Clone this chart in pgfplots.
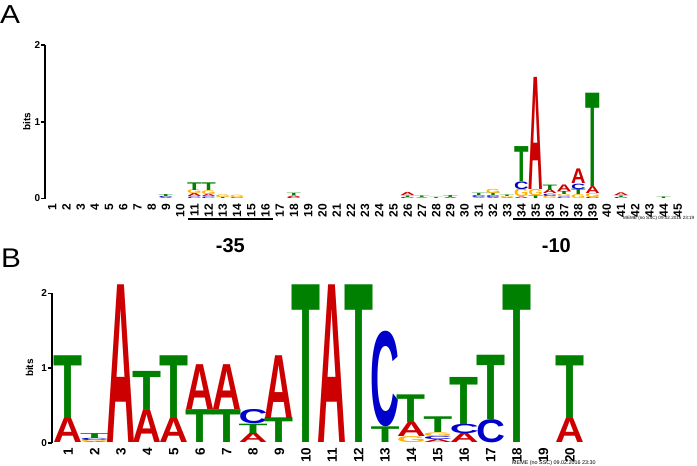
\documentclass[border=0pt]{standalone}
\usepackage{fontspec}
\setmainfont{Liberation Sans}
\usepackage{graphicx}
\usepackage{pgfplots}
\pgfplotsset{compat=1.18}
\usepackage{pgfplotstable}
\definecolor{colA}{RGB}{204,0,0}
\definecolor{colC}{RGB}{0,0,204}
\definecolor{colG}{RGB}{255,179,0}
\definecolor{colT}{RGB}{0,128,0}
\newdimen\bitA \bitA=76.75pt
\newdimen\bitB \bitB=74.7pt

% x = position, b = stack base (bits), h = letter height (bits), L = letter
\pgfplotstableread{
x b h L
9 0 0.015 A
9 0.015 0.015 C
9 0.03 0.025 T
11 0 0.02 C
11 0.02 0.04 A
11 0.06 0.05 G
11 0.11 0.10 T
12 0 0.02 C
12 0.02 0.03 A
12 0.05 0.05 G
12 0.10 0.10 T
13 0 0.015 T
13 0.015 0.035 G
14 0 0.01 C
14 0.01 0.03 G
18 0 0.015 C
18 0.015 0.02 A
18 0.035 0.03 T
26 0 0.015 C
26 0.015 0.02 T
26 0.035 0.04 A
27 0 0.01 A
27 0.01 0.02 T
28 0 0.015 T
29 0 0.015 A
29 0.015 0.025 T
31 0 0.01 A
31 0.01 0.025 C
31 0.035 0.03 T
32 0 0.015 A
32 0.015 0.025 C
32 0.04 0.03 T
32 0.07 0.055 G
33 0 0.01 A
33 0.01 0.015 G
33 0.025 0.02 T
34 0 0.02 A
34 0.02 0.10 G
34 0.12 0.10 C
34 0.22 0.455 T
35 0 0.035 T
35 0.035 0.08 G
35 0.115 1.46 A
36 0 0.03 G
36 0.03 0.03 C
36 0.06 0.05 A
36 0.11 0.07 T
37 0 0.02 C
37 0.02 0.03 G
37 0.05 0.04 T
37 0.09 0.085 A
38 0 0.05 G
38 0.05 0.07 T
38 0.12 0.07 C
38 0.19 0.19 A
39 0 0.015 C
39 0.015 0.05 G
39 0.065 0.09 A
39 0.155 1.215 T
41 0 0.015 C
41 0.015 0.02 T
41 0.035 0.035 A
44 0 0.02 T
}\logoA

\pgfplotstableread{
x b h L
1 0 0.33 A
1 0.33 0.84 T
2 0 0.012 A
2 0.012 0.018 G
2 0.03 0.03 C
2 0.06 0.066 T
3 0 2.11 A
4 0 0.44 A
4 0.44 0.51 T
5 0 0.33 A
5 0.33 0.84 T
6 0 0.44 T
6 0.44 0.60 A
7 0 0.44 T
7 0.44 0.60 A
8 0 0.125 A
8 0.125 0.125 T
8 0.25 0.19 C
9 0 0.33 T
9 0.33 0.84 A
10 0 2.11 T
11 0 2.11 A
12 0 2.11 T
13 0 0.21 T
13 0.21 1.28 C
14 0 0.08 G
14 0.08 0.19 A
14 0.27 0.37 T
15 0 0.04 A
15 0.04 0.04 C
15 0.08 0.05 G
15 0.13 0.21 T
16 0 0.125 A
16 0.125 0.125 C
16 0.25 0.63 T
17 0 0.31 C
17 0.31 0.86 T
18 0 2.11 T
20 0 0.33 A
20 0.33 0.84 T
}\logoB

\pgfplotsset{
  logoaxis/.style={
    scale only axis, anchor=south west, clip=false,
    ymin=0, ymax=2,
    axis x line*=bottom, axis y line*=left,
    x axis line style={draw=none},
    y axis line style={-, line width=2pt},
    ytick={0,1,2},
    xtick style={draw=none},
    ytick style={line width=1.6pt, black},
    tick align=outside, major tick length=4pt,
    yticklabel style={font=\bfseries\fontsize{10}{10}\selectfont, inner sep=0.5pt},
    /pgf/number format/assume math mode=true,
    ylabel={bits},
  },
  logo/.style={
    draw=none, mark=none,
    point meta=explicit symbolic,
    visualization depends on={\thisrow{h}\as\Hval},
    every node near coord/.append style={anchor=south, inner sep=0pt, outer sep=0pt},
  },
}

\begin{document}
\begin{tikzpicture}
\useasboundingbox (0,0) rectangle (697pt,-466pt);

% ---------------- Panel A ----------------
\begin{axis}[logoaxis,
  at={(45pt,-198.5pt)}, width=640pt, height=153.5pt,
  xmin=0.494, xmax=45.5,
  xtick={1,...,45},
  xticklabel style={rotate=90, anchor=east, font=\bfseries\fontsize{12}{12}\selectfont, inner sep=1pt},
  every axis y label/.style={at={(axis description cs:-0.0172,0.5)}, rotate=90, anchor=south, font=\bfseries\fontsize{10}{10}\selectfont},
]
\addplot[logo, nodes near coords={\resizebox*{14.5pt}{\Hval\bitA}{\textcolor{col\pgfplotspointmeta}{\bfseries\pgfplotspointmeta}}}]
  table[x=x, y=b, meta=L] {\logoA};
\end{axis}

% ---------------- Panel B ----------------
\begin{axis}[logoaxis,
  at={(51.7pt,-442.7pt)}, width=534pt, height=149.4pt,
  xmin=0.371, xmax=20.6,
  xtick={1,...,20},
  xticklabel style={rotate=90, anchor=east, font=\bfseries\fontsize{13.5}{13.5}\selectfont, inner sep=1pt},
  every axis y label/.style={at={(axis description cs:-0.028,0.5)}, rotate=90, anchor=south, font=\bfseries\fontsize{10}{10}\selectfont},
]
\addplot[logo, nodes near coords={\resizebox*{29pt}{\Hval\bitB}{\textcolor{col\pgfplotspointmeta}{\bfseries\pgfplotspointmeta}}}]
  table[x=x, y=b, meta=L] {\logoB};
\end{axis}

% annotations
\node[font=\fontsize{26}{26}\selectfont, anchor=north west, inner sep=0pt, xscale=1.15] at (0pt,-5pt) {A};
\node[font=\fontsize{27}{27}\selectfont, anchor=north west, inner sep=0pt, xscale=1.1] at (1pt,-249pt) {B};
\draw[line width=2pt] (188pt,-219pt) -- (273pt,-219pt);
\draw[line width=2pt] (513pt,-219pt) -- (598pt,-219pt);
\node[font=\bfseries\fontsize{20}{20}\selectfont, inner sep=0pt] at (230.3pt,-246pt) {-35};
\node[font=\bfseries\fontsize{20}{20}\selectfont, inner sep=0pt] at (556.3pt,-246pt) {-10};
\node[font=\fontsize{4.6}{4.6}\selectfont, anchor=west, inner sep=0pt] at (623pt,-218pt) {MEME (no SSC) 09.02.2016 23:19};
\node[font=\fontsize{5.4}{5.4}\selectfont, anchor=west, inner sep=0pt] at (512pt,-463pt) {MEME (no SSC) 09.02.2016 23:30};
\end{tikzpicture}
\end{document}
